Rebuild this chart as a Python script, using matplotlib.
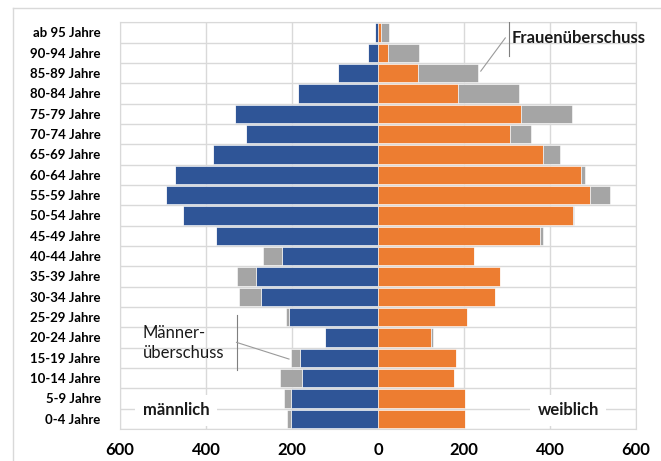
import numpy as np
import matplotlib.pyplot as plt
from matplotlib.lines import Line2D

plt.rcParams['font.family'] = ['Lato', 'DejaVu Sans']

# Altersgruppen von oben nach unten
altersgruppen = ["ab 95 Jahre", "90-94 Jahre", "85-89 Jahre", "80-84 Jahre", "75-79 Jahre",
                 "70-74 Jahre", "65-69 Jahre", "60-64 Jahre", "55-59 Jahre", "50-54 Jahre",
                 "45-49 Jahre", "40-44 Jahre", "35-39 Jahre", "30-34 Jahre", "25-29 Jahre",
                 "20-24 Jahre", "15-19 Jahre", "10-14 Jahre", "5-9 Jahre", "0-4 Jahre"]
maennlich = [6, 23, 93, 187, 332, 307, 383, 471, 494, 454,
             377, 267, 327, 323, 215, 124, 203, 228, 219, 211]
weiblich = [26, 95, 233, 329, 450, 355, 423, 481, 540, 456,
            384, 223, 284, 273, 207, 127, 181, 177, 203, 203]
xticks = [-600, -400, -200, 0, 200, 400, 600]
xlabels = ["600", "400", "200", "0", "200", "400", "600"]

m = np.array(maennlich)
w = np.array(weiblich)
gemeinsam = np.minimum(m, w)
y = np.arange(len(altersgruppen))

BLAU = "#2F5597"
ORANGE = "#ED7D31"
GRAU = "#A5A5A5"
GITTER = "#D9D9D9"

W, H = 661, 461
fig = plt.figure(figsize=(W / 100, H / 100), dpi=100)
ax = fig.add_axes([120 / W, (H - 429) / H, (636 - 120) / W, (429 - 22.3) / H])

h = 0.9
# Männerseite: gemeinsamer Teil + Überschuss
ax.barh(y, -gemeinsam, height=h, color=BLAU, edgecolor="white", linewidth=0.4, zorder=3)
ax.barh(y, -(m - gemeinsam), left=-gemeinsam, height=h, color=GRAU,
        edgecolor="white", linewidth=0.4, zorder=3)
# Frauenseite
ax.barh(y, gemeinsam, height=h, color=ORANGE, edgecolor="white", linewidth=0.4, zorder=3)
ax.barh(y, w - gemeinsam, left=gemeinsam, height=h, color=GRAU,
        edgecolor="white", linewidth=0.4, zorder=3)

ax.set_xlim(-600, 600)
ax.set_ylim(len(altersgruppen) - 0.5, -0.5)
ax.set_xticks(xticks)
ax.set_xticklabels(xlabels, fontsize=12, fontweight="bold")
ax.set_yticks(y)
ax.set_yticklabels(altersgruppen, fontsize=9.5, fontweight="bold")
ax.set_yticks(np.arange(len(altersgruppen) + 1) - 0.5, minor=True)
ax.tick_params(axis="both", which="both", length=0)
ax.tick_params(axis="x", pad=9)
ax.tick_params(axis="y", pad=14)
ax.grid(axis="x", which="major", color=GITTER, linewidth=1, zorder=0)
ax.grid(axis="y", which="minor", color=GITTER, linewidth=1, zorder=0)
ax.grid(axis="y", which="major", visible=False)
for s in ax.spines.values():
    s.set_color(GITTER)
ax.set_axisbelow(True)

# Beschriftungen
ax.text(311, 0.27, "Frauenüberschuss", fontsize=12, fontweight="bold",
        ha="left", va="center", color="#1a1a1a", clip_on=False, zorder=5)
ax.plot([305, 305], [-0.5, 1.16], color="#7f7f7f", linewidth=0.8, zorder=5)
ax.plot([296, 239], [0.27, 1.9], color="#9a9a9a", linewidth=0.8, zorder=5)

ax.text(-547, 15.27, "Männer-\nüberschuss", fontsize=12, ha="left", va="center",
        linespacing=1.25, color="#1a1a1a", zorder=5)
ax.plot([-329, -329], [13.89, 16.6], color="#7f7f7f", linewidth=0.8, zorder=5)
ax.plot([-329, -207], [15.24, 16.06], color="#9a9a9a", linewidth=0.8, zorder=5)

ax.text(-547, 18.57, "männlich", fontsize=12, fontweight="bold", ha="left", va="center",
        color="#1a1a1a", zorder=5,
        bbox=dict(boxstyle="square,pad=0.45", facecolor="white", edgecolor="none"))
ax.text(371, 18.57, "weiblich", fontsize=12, fontweight="bold", ha="left", va="center",
        color="#1a1a1a", zorder=5,
        bbox=dict(boxstyle="square,pad=0.45", facecolor="white", edgecolor="none"))

# Rahmen des Diagrammbereichs
fig.add_artist(Line2D([12.7 / W, 12.7 / W], [0, (H - 8.3) / H], color=GITTER, linewidth=1))
fig.add_artist(Line2D([12.7 / W, 1], [(H - 8.3) / H, (H - 8.3) / H], color=GITTER, linewidth=1))

fig.savefig("out.png", dpi=100)
